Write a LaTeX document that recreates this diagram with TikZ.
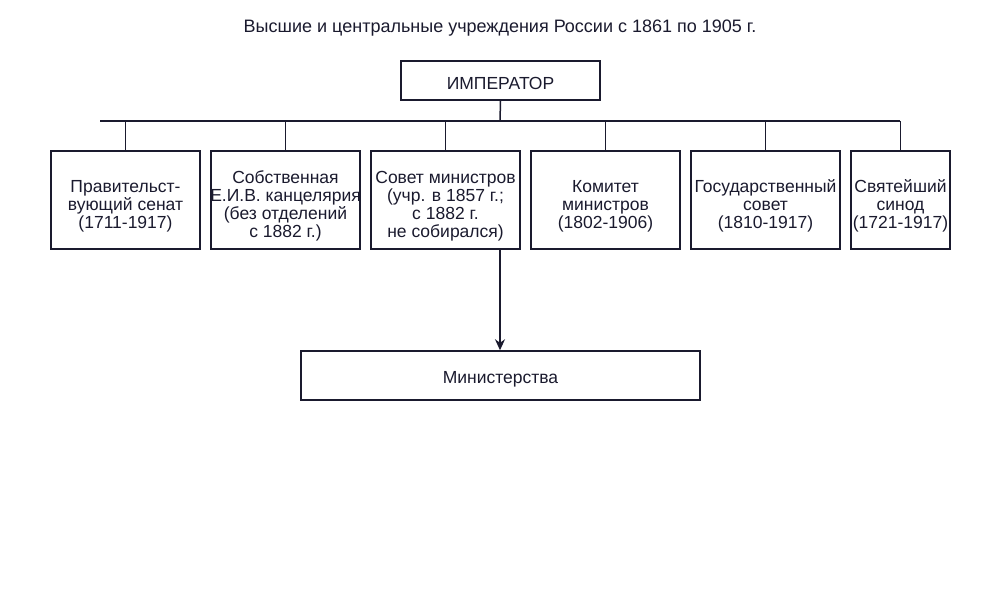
\documentclass[tikz,border=0pt]{standalone}
\usepackage{fontspec}
\setmainfont{Liberation Sans}
\usetikzlibrary{arrows.meta}
\definecolor{ink}{HTML}{1A1A2E}
\begin{document}
\begin{tikzpicture}[x=1pt,y=-1pt,
  box/.style={draw=ink,line width=1.5pt,inner sep=0pt},
  txt/.style={text=ink,align=center,inner sep=0pt,font=\fontsize{17.5}{18}\selectfont},
  ln/.style={draw=ink,line width=1.5pt}]
\useasboundingbox (0,0) rectangle (1000,600);
\node[text=ink,font=\fontsize{18}{18}\selectfont] (title) at (500,28) {Высшие и центральные учреждения России с 1861 по 1905 г.};
\node[box,minimum width=199pt,minimum height=39pt,label={[txt,yshift=-3pt]center:ИМПЕРАТОР}] (emp) at (500.5,80.5) {};
\coordinate (hl) at (100,121); \coordinate (hr) at (900,121); \coordinate (hm) at (500,121);
\draw[ln] (hl) -- (hr);
\draw[ln] (emp.south) -- (hm);
\foreach \n/\cx/\w/\t [count=\i] in {
 b1/125.5/149/{Правительст-\\вующий сенат\\(1711-1917)},
 b2/285.5/149/{Собственная\\Е.И.В. канцелярия\\(без отделений\\с 1882 г.)},
 b3/445.5/149/{Совет министров\\(учр. в 1857 г.;\\с 1882 г.\\не собирался)},
 b4/605.5/149/{Комитет\\министров\\(1802-1906)},
 b5/765.5/149/{Государственный\\совет\\(1810-1917)},
 b6/900.5/99/{Святейший\\синод\\(1721-1917)}}{
  \node[box,minimum width=\w pt,minimum height=98pt,label={[txt,yshift=-6pt]center:\t}] (\n) at (\cx,200) {};
  \coordinate (t\n) at (\cx,121);
  \draw[ln] (t\n) -- (\n.north);
}
\node[box,minimum width=399pt,minimum height=49pt,label={[txt,yshift=-4pt]center:Министерства}] (min) at (500.5,375.5) {};
\coordinate (s3) at (500,249);
\draw[ln,-{Stealth[length=11pt,width=10pt]}] (s3) -- (min.north-|s3);
\end{tikzpicture}
\end{document}
